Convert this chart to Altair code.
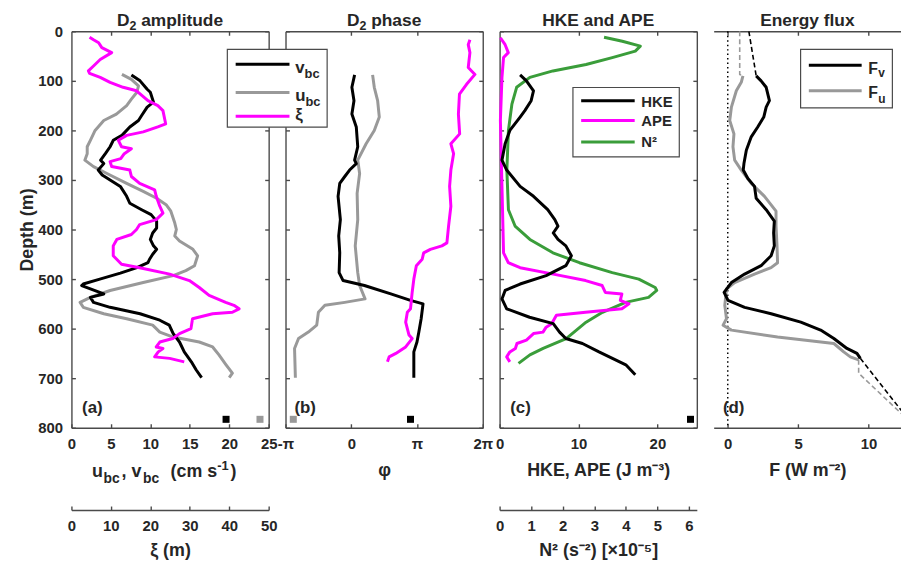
import math
import altair as alt
import pandas as pd

# ---------------- data ----------------
# (a) D2 amplitude: v_bc, u_bc in cm/s, xi in m
V_DEPTH = [88,100,117,123,143,153,170,180,193,210,220,233,247,260,267,280,290,300,313,333,
           347,360,370,383,397,407,420,433,440,450,460,467,477,488,500,510,513,530,537,547,
           557,570,583,593,610,627,647,667,683,699]
V_AMP = [7.6,8.7,9.6,10.0,10.4,9.6,8.9,8.5,7.4,6.4,5.3,4.9,4.3,3.7,4.1,3.4,3.9,4.9,6.2,7.0,
         7.4,8.9,10.1,10.8,10.8,10.3,10.0,10.4,10.8,10.3,9.9,9.7,8.3,6.2,3.6,1.5,1.3,4.1,2.4,2.8,
         4.9,8.7,11.2,12.4,12.9,13.7,14.3,15.2,15.8,16.5]
U_DEPTH = [87,97,110,123,137,150,167,180,200,220,233,247,260,273,287,307,323,337,350,363,
           387,400,413,423,440,453,473,483,493,507,523,537,547,557,570,580,593,607,617,627,
           637,653,673,690,699]
U_AMP = [6.4,7.6,8.5,8.3,7.6,7.0,5.7,4.1,3.0,2.4,2.0,2.0,1.7,2.8,4.5,7.0,9.1,10.8,12.0,12.6,
         13.1,13.3,13.1,13.7,15.4,16.0,15.6,14.5,12.9,9.1,4.9,2.4,1.1,1.5,4.1,7.0,10.3,11.2,12.9,16.2,
         17.9,18.7,19.6,20.4,20.0]
XI_DEPTH = [12,17,23,33,43,57,70,80,85,93,103,113,120,140,150,160,187,193,203,210,
            220,233,237,247,257,263,273,280,293,307,320,333,353,367,380,390,400,410,420,433,
            453,470,477,490,503,517,533,547,553,560,567,570,580,600,610,620,627,637,640,647,
            657,660,667]
XI_AMP = [4.6,5.6,6.9,7.7,10.2,7.3,5.6,4.3,4.6,7.3,9.8,13.1,16.5,19.4,21.9,23.2,23.9,21.9,18.2,14.0,
          11.9,12.7,15.2,13.4,12.5,9.8,10.2,14.8,15.2,17.3,21.1,21.5,22.4,23.2,21.5,17.3,16.5,15.2,11.5,10.6,
          10.6,12.7,17.3,24.9,29.9,32.4,34.9,39.1,41.2,42.5,40.8,35.8,30.7,30.3,27.4,25.7,22.4,21.5,23.2,22.0,
          21.1,24.9,28.6]
A_MARK_X = [19.6, 23.9]
A_MARK_C = ["#000000", "#999999"]

# (b) D2 phase (radians)
PV_DEPTH = [88,113,140,167,193,233,260,267,280,293,307,333,380,413,447,487,503,513,530,543,
            550,580,607,627,647,699]
PV_PHASE = [0.16,0.03,0.13,0.03,0.24,0.31,0.16,0.24,-0.08,-0.31,-0.55,-0.63,-0.52,-0.60,-0.55,-0.58,
            -0.39,0.63,1.89,2.83,3.43,3.34,3.23,3.14,2.99,2.99]
PU_DEPTH = [88,113,140,173,200,227,260,287,327,380,433,487,513,540,547,553,567,593,607,620,640,699]
PU_PHASE = [1.02,1.10,1.26,1.34,1.10,0.71,0.31,0.40,0.28,0.31,0.19,0.31,0.40,0.66,-0.31,-1.26,
            -1.57,-1.65,-2.05,-2.52,-2.71,-2.67]
PX_DEPTH = [17,27,43,73,87,107,127,167,207,227,247,280,313,353,393,427,433,440,447,460,
            473,500,527,560,567,587,613,620,637,650,657,667]
PX_PHASE = [5.67,5.59,5.67,5.59,5.91,5.51,5.17,5.12,5.18,4.76,4.89,4.76,4.70,4.76,4.65,4.57,
            4.33,3.78,3.46,3.39,3.11,2.99,2.91,2.83,2.68,2.60,2.76,2.91,2.60,2.13,1.81,1.73]
B_MARK_X = [-2.77, 2.83]
B_MARK_C = ["#999999", "#000000"]

# (c) HKE, APE (J m^-3) and N^2 (x1e-5 s^-2)
HKE_DEPTH = [88,100,120,140,160,173,200,227,260,280,313,333,360,380,393,407,420,433,453,473,
             493,510,523,540,560,577,590,607,620,630,647,660,673,693]
HKE = [2.6,3.4,4.3,4.0,3.2,2.6,1.3,0.7,0.3,0.9,2.6,4.3,6.1,7.0,7.4,6.8,7.4,8.4,9.1,8.4,
       5.9,2.6,0.7,0.3,0.9,3.8,6.8,7.6,8.4,10.5,12.6,14.3,16.0,17.2]
APE_DEPTH = [13,27,43,53,93,180,313,447,467,477,490,503,513,527,530,543,550,560,567,573,
             590,597,607,610,623,630,640,647,657,667]
APE = [0.1,0.7,1.1,0.5,0.3,0.1,0.3,0.5,1.1,2.6,6.8,10.9,13.0,13.4,15.5,15.3,16.4,15.5,10.9,7.2,
       6.6,5.9,5.5,4.3,3.4,2.2,2.0,1.3,0.9,1.3]
N2_DEPTH = [12,20,30,40,53,67,80,93,113,147,200,280,360,393,420,447,467,487,500,517,
            523,537,547,567,587,620,640,653,670]
N2 = [3.31,3.89,4.46,4.30,3.57,2.74,1.69,0.96,0.54,0.39,0.28,0.23,0.28,0.49,0.96,1.69,2.53,3.57,4.41,4.93,
      4.98,4.72,3.99,3.26,2.74,2.11,1.38,0.96,0.60]
C_MARK_X = [24.2]
C_MARK_C = ["#000000"]

# (d) Energy flux (W m^-2)
FV_DEPTH = [90,100,113,140,153,173,193,213,240,267,280,297,313,337,360,383,407,433,453,473,
            490,507,527,543,557,570,587,603,620,640,650,660]
FV = [2.02,2.37,2.73,2.96,2.73,2.56,2.13,1.67,1.32,1.15,1.10,1.43,1.90,2.02,2.73,3.31,3.26,3.31,3.08,2.37,
      1.20,0.26,-0.26,0.02,1.20,3.08,5.19,6.60,7.54,8.47,9.18,9.42]
FU_DEPTH = [90,103,120,153,180,207,233,260,280,307,333,363,393,433,467,477,490,507,520,553,
            580,593,603,617,630,647,657,663]
FU = [1.08,0.96,0.61,0.26,0.14,0.44,0.37,0.49,0.96,1.67,2.61,3.43,3.43,3.50,3.54,3.08,1.90,0.49,-0.09,-0.21,
      -0.09,-0.33,0.26,3.54,7.54,8.24,8.71,9.30]
FV_TOP_DEPTH = [0, 90];        FV_TOP = [1.5, 2.02]
FV_BOT_DEPTH = [660, 800];     FV_BOT = [9.42, 13.3]
FU_TOP_DEPTH = [0, 87, 90];    FU_TOP = [0.85, 0.85, 1.08]
FU_BOT_DEPTH = [663, 690, 800]; FU_BOT = [9.30, 9.30, 13.4]

MARK_DEPTH = 783
DEPTH_TICKS = [0, 100, 200, 300, 400, 500, 600, 700, 800]
PI = math.pi

# ---------------- style ----------------
FONT = "Liberation Sans"
INK = "#262626"
FRAME = "#4a4a4a"
BLACK = "#000000"
GRAY = "#999999"
MAG = "#ff00ff"
GREEN = "#3a9d3a"
W = 199
WD = 189
H = 400
TFS = 17.5   # panel title size
YS = alt.Scale(domain=[0, 800], reverse=True, nice=False, zero=False)

# Arial/Liberation Sans Bold advance widths (per 1000 em), for laying out sub-scripted titles
AW = {"D": 722, "a": 556, "m": 889, "p": 611, "l": 278, "i": 278, "t": 333, "u": 611,
      "d": 611, "e": 556, "h": 611, "s": 556, " ": 278, "2": 556}


def tw(s, fs):
    return sum(AW.get(ch, 556) for ch in s) * fs / 1000.0


def sc(lo, hi):
    return alt.Scale(domain=[lo, hi], nice=False, zero=False)


def ax(orient, values, labels=False, title=None, offset=0, expr=None, title_pad=10, label_pad=13):
    kw = dict(orient=orient, values=values, grid=False, domain=True, domainColor=FRAME,
              domainWidth=1.4, ticks=True, tickSize={"expr": "-4"}, tickColor=FRAME, tickWidth=1.4,
              labels=labels, title=title, offset=offset)
    if labels:
        kw.update(labelFont=FONT, labelFontSize=15, labelFontWeight="bold", labelColor=INK,
                  labelPadding=label_pad, labelFlush=False, labelOverlap=False)
        if expr:
            kw["labelExpr"] = expr
    else:
        kw.update(minExtent=0, maxExtent=0)
    if title:
        kw.update(titleFont=FONT, titleFontSize=18, titleFontWeight="bold", titleColor=INK,
                  titlePadding=title_pad)
    return alt.Axis(**kw)


def frame_layers(lo, xscale, bottom, left, top, right=None):
    d = pd.DataFrame({"val": [lo], "depth": [400]})
    a = alt.Chart(d).mark_point(opacity=0, size=1).encode(
        x=alt.X("val:Q", scale=xscale, axis=bottom),
        y=alt.Y("depth:Q", scale=YS, axis=left))
    b = alt.Chart(d).mark_point(opacity=0, size=1).encode(
        x=alt.X("val:Q", scale=xscale, axis=top),
        y=alt.Y("depth:Q", scale=YS, axis=right))
    return [a, b]


def line(depth, vals, color, xscale, xaxis=None, width=3.0, dash=None, clip=False):
    d = pd.DataFrame({"depth": depth, "val": vals, "i": list(range(len(depth)))})
    mk = dict(color=color, strokeWidth=width, clip=clip, strokeJoin="round")
    if dash:
        mk["strokeDash"] = dash
    return alt.Chart(d).mark_line(**mk).encode(
        x=alt.X("val:Q", scale=xscale, axis=xaxis),
        y=alt.Y("depth:Q", scale=YS, axis=None),
        order=alt.Order("i:Q"))


def squares(xv, colors, xscale):
    d = pd.DataFrame({"val": xv, "depth": [MARK_DEPTH] * len(xv), "c": colors})
    return alt.Chart(d).mark_square(size=50, opacity=1, filled=True).encode(
        x=alt.X("val:Q", scale=xscale, axis=None),
        y=alt.Y("depth:Q", scale=YS, axis=None),
        color=alt.Color("c:N", scale=None, legend=None))


def texts(rows, align="left"):
    d = pd.DataFrame(rows, columns=["t", "px", "py", "fs", "c"])
    return alt.Chart(d).mark_text(font=FONT, fontWeight="bold", align=align,
                                  baseline="alphabetic").encode(
        x=alt.X("px:Q", scale=None, axis=None),
        y=alt.Y("py:Q", scale=None, axis=None),
        text="t:N",
        size=alt.Size("fs:Q", scale=None, legend=None),
        color=alt.Color("c:N", scale=None, legend=None))


def ptitle(t, w):
    return texts([(t, w / 2, -5, TFS, INK)], align="center")


def d2title(rest, w):
    # "D" + subscript "2" + " " + rest, centred on the panel
    sfs = 12.5
    total = tw("D", TFS) + tw("2", sfs) + tw(" ", TFS) + tw(rest, TFS)
    x0 = w / 2 - total / 2
    x1 = x0 + tw("D", TFS)
    x2 = x1 + tw("2", sfs) + tw(" ", TFS)
    return texts([("D", x0, -5, TFS, INK), ("2", x1, -1, sfs, INK), (rest, x2, -5, TFS, INK)])


def leg_lines(rows):
    d = pd.DataFrame(rows, columns=["x1", "x2", "y", "c"])
    return alt.Chart(d).mark_rule(strokeWidth=3).encode(
        x=alt.X("x1:Q", scale=None, axis=None), x2="x2:Q",
        y=alt.Y("y:Q", scale=None, axis=None),
        color=alt.Color("c:N", scale=None, legend=None))


def box(x1, x2, y1, y2):
    d = pd.DataFrame({"x1": [x1], "x2": [x2], "y1": [y1], "y2": [y2]})
    return alt.Chart(d).mark_rect(fill="white", stroke=FRAME, strokeWidth=1.2).encode(
        x=alt.X("x1:Q", scale=None, axis=None), x2="x2:Q",
        y=alt.Y("y1:Q", scale=None, axis=None), y2="y2:Q")


# ---------------- panel (a) ----------------
XA = sc(0, 25)
XXI = sc(0, 50)
pa = alt.layer(
    *frame_layers(0, XA,
                  ax("bottom", [0, 5, 10, 15, 20, 25], labels=True),
                  ax("left", DEPTH_TICKS, labels=True, title="Depth (m)", title_pad=1),
                  ax("top", [5, 10, 15, 20]),
                  ax("right", DEPTH_TICKS)),
    line(U_DEPTH, U_AMP, GRAY, XA),
    line(V_DEPTH, V_AMP, BLACK, XA),
    line(XI_DEPTH, XI_AMP, MAG, XXI,
         xaxis=ax("bottom", [0, 10, 20, 30, 40, 50], labels=True, title="ξ (m)", offset=83, title_pad=8)),
    squares(A_MARK_X, A_MARK_C, XA),
    texts([("u", 20.7, 450, 18, INK), ("bc", 32.3, 456, 14, INK), (",", 50.5, 450, 18, INK),
           ("v", 60.7, 450, 18, INK), ("bc", 72.3, 456, 14, INK), ("(cm s", 100, 450, 18, INK),
           ("-1", 147, 443, 13, INK), (")", 160.5, 450, 18, INK),
           ("(a)", 10.7, 385.5, 17, INK)]),
    d2title("amplitude", W),
).resolve_scale(x="independent").properties(width=W, height=H)

# ---------------- panel (b) ----------------
XB = sc(-PI, 2 * PI)
PHASE_EXPR = "datum.value < -1 ? '-π' : (datum.value > 5 ? '2π' : (datum.value > 1 ? 'π' : '0'))"
pb = alt.layer(
    *frame_layers(0, XB,
                  ax("bottom", [-PI, 0, PI, 2 * PI], labels=True, title="φ", expr=PHASE_EXPR),
                  ax("left", DEPTH_TICKS),
                  ax("top", [0, PI]),
                  ax("right", DEPTH_TICKS)),
    line(PU_DEPTH, PU_PHASE, GRAY, XB),
    line(PV_DEPTH, PV_PHASE, BLACK, XB),
    line(PX_DEPTH, PX_PHASE, MAG, XB),
    squares(B_MARK_X, B_MARK_C, XB),
    # legend of panel (a), drawn on top of both panels
    box(-58.7, 42, 18.3, 96.7),
    leg_lines([(-50.3, 4, 33.3, BLACK), (-50.3, 4, 61.7, GRAY), (-50.3, 4, 85.7, MAG)]),
    texts([("v", 9.7, 41.8, 17, INK), ("bc", 19.2, 47.5, 13, INK),
           ("u", 9.7, 70, 17, INK), ("bc", 20.1, 75.5, 13, INK),
           ("ξ", 9.7, 89.5, 17, INK),
           ("(b)", 9, 385.5, 17, INK)]),
    d2title("phase", W),
).properties(width=W, height=H)

# ---------------- panel (c) ----------------
XC = sc(0, 25)
XN = sc(0, 6.25)
pc = alt.layer(
    *frame_layers(0, XC,
                  ax("bottom", [0, 10, 20], labels=True, title="HKE, APE (J m⁻³)"),
                  ax("left", DEPTH_TICKS),
                  ax("top", [10, 20]),
                  ax("right", DEPTH_TICKS)),
    line(N2_DEPTH, N2, GREEN, XN,
         xaxis=ax("bottom", [0, 1, 2, 3, 4, 5, 6], labels=True, title="N² (s⁻²) [×10⁻⁵]",
                  offset=83, title_pad=8)),
    line(APE_DEPTH, APE, MAG, XC),
    line(HKE_DEPTH, HKE, BLACK, XC),
    squares(C_MARK_X, C_MARK_C, XC),
    box(74, 181.3, 56.7, 126.7),
    leg_lines([(82.3, 136.3, 70, BLACK), (82.3, 136.3, 90, MAG), (82.3, 136.3, 111.7, GREEN)]),
    texts([("HKE", 143, 76, 15, INK), ("APE", 143, 96, 15, INK), ("N²", 143, 117, 15, INK),
           ("(c)", 10.7, 385.5, 17, INK)]),
    ptitle("HKE and APE", W),
).resolve_scale(x="independent").properties(width=W, height=H)

# ---------------- panel (d) ----------------
XD = sc(-1, 12.31)
zero = alt.Chart(pd.DataFrame({"val": [0]})).mark_rule(
    color=BLACK, strokeWidth=1.5, strokeDash=[1.5, 3]).encode(x=alt.X("val:Q", scale=XD, axis=None))
pdd = alt.layer(
    *frame_layers(0, XD,
                  ax("bottom", [0, 5, 10], labels=True, title="F (W m⁻²)"),
                  ax("left", DEPTH_TICKS),
                  ax("top", [0, 5, 10]),
                  None),
    zero,
    line(FU_TOP_DEPTH, FU_TOP, GRAY, XD, width=1.6, dash=[5, 3], clip=True),
    line(FU_BOT_DEPTH, FU_BOT, GRAY, XD, width=1.6, dash=[5, 3], clip=True),
    line(FV_TOP_DEPTH, FV_TOP, BLACK, XD, width=1.6, dash=[5, 3], clip=True),
    line(FV_BOT_DEPTH, FV_BOT, BLACK, XD, width=1.6, dash=[5, 3], clip=True),
    line(FU_DEPTH, FU, GRAY, XD),
    line(FV_DEPTH, FV, BLACK, XD),
    box(87.7, 180.3, 18.3, 77.3),
    leg_lines([(96, 149.3, 34.3, BLACK), (96, 149.3, 60, GRAY)]),
    texts([("F", 156, 42.7, 16, INK), ("v", 166, 46.5, 12, INK),
           ("F", 156, 67.5, 16, INK), ("u", 166, 72, 12, INK),
           ("(d)", 9.3, 385.5, 17, INK)]),
    ptitle("Energy flux", WD),
).properties(width=WD, height=H)

chart = alt.hconcat(pa, pb, pc, pdd, spacing=17, bounds="flush").properties(
    padding={"left": 10, "top": 2, "right": 0, "bottom": 5}
).configure(font=FONT).configure_view(strokeOpacity=0)

chart.save("out.html", embed_options={"renderer": "svg", "actions": False})
